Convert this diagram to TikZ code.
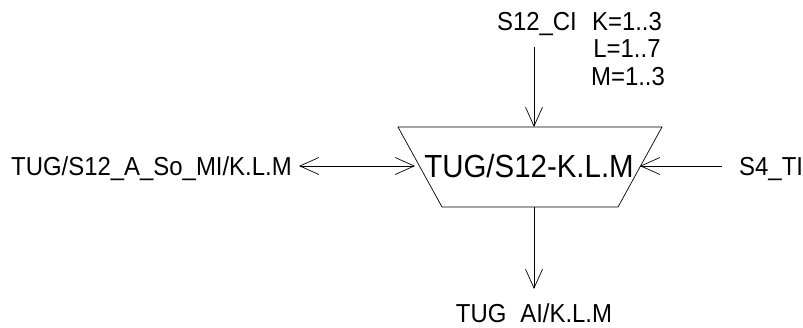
\documentclass[tikz,border=0pt]{standalone}
\usepackage{fontspec}
\setmainfont{Liberation Sans}[FakeStretch=0.92]
\usetikzlibrary{arrows.meta}
\begin{document}
\begin{tikzpicture}[x=1pt,y=-1pt,
  lbl/.style={inner sep=0pt, font=\fontsize{26}{27.5}\selectfont},
  big/.style={inner sep=0pt, font=\fontsize{32}{34}\selectfont},
  conn/.style={line width=0.7pt, -{Straight Barb[length=19pt,width=17pt,line width=0.7pt]}},
  dconn/.style={line width=0.7pt, {Straight Barb[length=19pt,width=17pt,line width=0.7pt]}-{Straight Barb[length=19pt,width=17pt,line width=0.7pt]}},
  box/.style={line width=0.7pt}]
\useasboundingbox (0,0) rectangle (803,327);
% block
\draw[box] (398,127) coordinate (tl) -- (662,127) coordinate (tr) -- (618,207) coordinate (br) -- (442,207) coordinate (bl) -- cycle;
\node[big, anchor=base] (blk) at (529,177) {TUG/S12-K.L.M};
\coordinate (ttop) at (534,127);
\coordinate (tbot) at (534,207);
\coordinate (tleft) at (415,166);
\coordinate (tright) at (640,166);
% labels
\node[lbl, anchor=base] (ci) at (537,30) {S12\_CI};
\coordinate (citail) at (534,47);
\node[lbl, anchor=base] (kr) at (627,30) {K=1..3};
\node[lbl, anchor=base] (lr) at (627,57.5) {L=1..7};
\node[lbl, anchor=base] (mr) at (628,85) {M=1..3};
\node[lbl, anchor=base west] (mi) at (11,175) {TUG/S12\_A\_So\_MI/K.L.M};
\coordinate (mitip) at (299,166);
\node[lbl, anchor=base west] (ti) at (739,175) {S4\_TI};
\coordinate (titail) at (722,166);
\node[lbl, anchor=base] (ai) at (534,322.5) {TUG \kern0.278em AI/K.L.M};
\coordinate (aitip) at (534,289);
% connectors
\draw[conn] (citail) -- (ttop);
\draw[conn] (tbot) -- (aitip);
\draw[conn] (titail) -- (tright);
\draw[dconn] (mitip) -- (tleft);
\end{tikzpicture}
\end{document}
